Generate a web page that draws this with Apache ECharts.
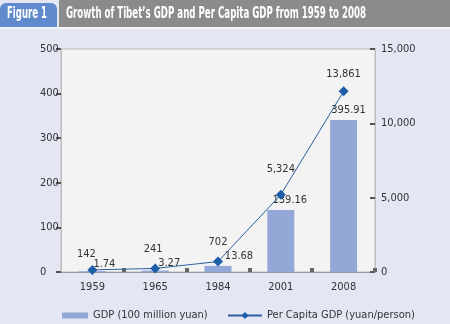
<!DOCTYPE html>
<html><head><meta charset="utf-8">
<style>html,body{margin:0;padding:0;background:#e4e6f4;}#c{width:450px;height:324px;}</style>
<script src="https://cdn.jsdelivr.net/npm/echarts@6/dist/echarts.min.js"></script>
</head><body><div id="c"></div>
<script>
const categories = ['1959', '1965', '1984', '2001', '2008'];
// plotted heights as drawn in the picture
const gdpValues = [1.74, 3.27, 13.68, 139.16, 341];
const perCapitaValues = [142, 241, 702, 5200, 12150];
// printed data labels
const gdpLabels = ['1.74', '3.27', '13.68', '139.16', '395.91'];
const perCapitaLabels = ['142', '241', '702', '5,324', '13,861'];
const leftTicks = [0, 100, 200, 300, 400, 500];
const rightTicks = [0, 5000, 10000, 15000];
const titleText = 'Growth of Tibet\u2019s GDP and Per Capita GDP from 1959 to 2008';
const figText = 'Figure 1';

const FONT = "'DejaVu Sans Condensed', 'Liberation Sans Narrow', sans-serif";
const cv = document.createElement('canvas').getContext('2d');
function fitScale(text, font, w) { cv.font = font; return w / cv.measureText(text).width; }
const TFONT = "bold 16px " + FONT;
const sTitle = fitScale(titleText, TFONT, 300);
const sFig = fitScale(figText, TFONT, 40);

const chart = echarts.init(document.getElementById('c'), null, {renderer: 'canvas'});
const gdpOffsets = [[12, 2], [14, 2], [21, 0], [9, 0], [5, 0]];
const pcOffsets = [[-6, 4], [-2, 0], [0, 0], [0, -6], [0, 2]];
chart.setOption({
  backgroundColor: '#e4e6f4',
  animation: false,
  textStyle: {fontFamily: FONT},
  graphic: [
    {type: 'rect', shape: {x: 59, y: 0, width: 391, height: 27}, style: {fill: '#8b8b8b'}},
    {type: 'rect', shape: {x: 0, y: 3, width: 57, height: 24, r: [6, 6, 0, 0]}, style: {fill: '#5f8bcc'}},
    {type: 'rect', shape: {x: 0, y: 27, width: 450, height: 2}, style: {fill: '#f4f4fa'}},
    {type: 'text', x: 7, y: 6, scaleX: sFig, style: {text: figText, fill: '#fff', font: TFONT}},
    {type: 'text', x: 66, y: 6, scaleX: sTitle, style: {text: titleText, fill: '#fff', font: TFONT}}
  ],
  grid: {left: 61, right: 75, top: 49, bottom: 52, show: true, backgroundColor: '#f3f3f3', borderColor: '#bdbdbd', borderWidth: 1},
  legend: [
    {left: 57, top: 305, itemWidth: 26, itemHeight: 6, itemGap: 5, data: [{name: 'GDP (100 million yuan)', icon: 'rect'}],
     textStyle: {fontFamily: FONT, fontSize: 11, color: '#333'}},
    {left: 222, top: 305, itemWidth: 34, itemHeight: 9, itemGap: 5, data: ['Per Capita GDP (yuan/person)'],
     textStyle: {fontFamily: FONT, fontSize: 11, color: '#333'}}
  ],
  xAxis: {
    type: 'category', data: categories,
    axisLine: {lineStyle: {color: '#9a9a9a'}},
    axisTick: {show: true, inside: true, length: 4, interval: (i) => i > 0, lineStyle: {color: '#666', width: 4}},
    axisLabel: {color: '#333', fontSize: 11, fontFamily: FONT, margin: 10}
  },
  yAxis: [
    {type: 'value', min: leftTicks[0], max: leftTicks[leftTicks.length - 1], interval: 100,
     axisLine: {show: true, lineStyle: {color: '#bdbdbd'}},
     axisTick: {show: true, inside: false, length: 5, lineStyle: {color: '#555', width: 2}},
     splitLine: {show: false},
     axisLabel: {color: '#333', fontSize: 11, fontFamily: FONT, align: 'left', margin: 21}},
    {type: 'value', min: rightTicks[0], max: rightTicks[rightTicks.length - 1], interval: 5000,
     axisLine: {show: true, lineStyle: {color: '#bdbdbd'}},
     axisTick: {show: true, inside: true, length: 5, lineStyle: {color: '#555', width: 2}},
     splitLine: {show: false},
     axisLabel: {color: '#333', fontSize: 11, fontFamily: FONT, margin: 6,
       formatter: v => v.toLocaleString('en-US')}}
  ],
  series: [
    {name: 'GDP (100 million yuan)', type: 'bar', yAxisIndex: 0, barWidth: 27,
     itemStyle: {color: '#93a8d7'},
     data: gdpValues.map((v, i) => ({value: v, label: {offset: gdpOffsets[i]}})),
     label: {show: true, position: 'top', distance: 4, color: '#333', fontSize: 11, fontFamily: FONT,
       formatter: p => gdpLabels[p.dataIndex]}},
    {name: 'Per Capita GDP (yuan/person)', type: 'line', yAxisIndex: 1,
     symbol: 'diamond', symbolSize: 10,
     lineStyle: {color: '#2d5f9e', width: 1},
     itemStyle: {color: '#1d5ea9'},
     data: perCapitaValues.map((v, i) => ({value: v, label: {offset: pcOffsets[i]}})),
     label: {show: true, position: 'top', distance: 9, color: '#333', fontSize: 11, fontFamily: FONT,
       formatter: p => perCapitaLabels[p.dataIndex]}}
  ]
});
</script></body></html>
